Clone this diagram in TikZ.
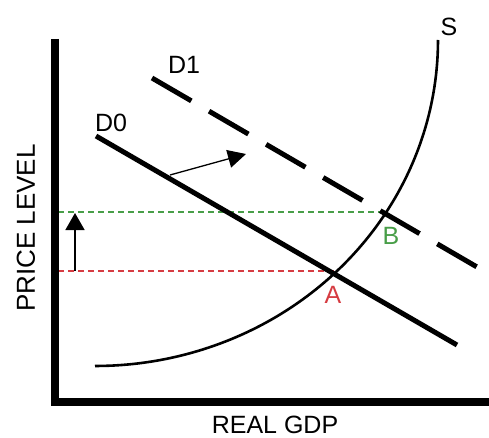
\documentclass[tikz,border=0pt]{standalone}
\usepackage{fontspec}
\setmainfont{Liberation Sans}
\usetikzlibrary{arrows.meta}
\definecolor{redline}{RGB}{214,60,66}
\definecolor{greenline}{RGB}{72,158,72}
\begin{document}
\begin{tikzpicture}[x=1pt,y=-1pt,
  lbl/.style={inner sep=0pt,font=\fontsize{25}{30}\selectfont},
  axisline/.style={line width=7.5pt},
  demand/.style={line width=5pt},
  supply/.style={line width=2.6pt},
  guide/.style={line width=1.3pt,dash pattern=on 6pt off 4pt},
  shiftarrow/.style={line width=1.5pt,-{Triangle[width=19pt,length=17pt]}}]
\useasboundingbox (0,0) rectangle (489,438);
\fill[white] (0,0) rectangle (489,438);
% key points
\coordinate (ytop) at (55,39);
\coordinate (corner) at (55,402);
\coordinate (xend) at (489,402);
\coordinate (d0s) at (96,136);
\coordinate (d0e) at (457,345);
\coordinate (d1s) at (152,78);
\coordinate (d1e) at (477,267);
\coordinate (A) at (334,271);
\coordinate (B) at (386,212);
\coordinate (gL) at (58,212);
\coordinate (rL) at (58,271);
\coordinate (vs) at (75,271);
\coordinate (ve) at (75,213);
\coordinate (hs) at (170,175);
\coordinate (he) at (246,154);
% guides
\draw[guide,greenline] (gL) -- (B);
\draw[guide,redline] (rL) -- (A);
% axes
\draw[axisline] (ytop) -- (corner) -- (xend);
% supply: quarter ellipse
\draw[supply] plot[domain=0:90,samples=60,smooth] ({95+343*cos(\x)},{40+326*sin(\x)});
% demand
\draw[demand] (d0s) -- (d0e);
\draw[demand,dash pattern=on 45.5pt off 20.5pt] (d1s) -- (d1e);
% arrows
\draw[shiftarrow] (vs) -- (ve);
\draw[shiftarrow,line width=1.3pt,-{Triangle[width=18pt,length=18pt]}] (hs) -- (he);
% labels
\node[lbl] (lS) at (449,27) {S};
\node[lbl] (lD1) at (184,65) {D1};
\node[lbl] (lD0) at (111,123) {D0};
\node[lbl,text=redline] (lA) at (333,295) {A};
\node[lbl,text=greenline] (lB) at (391,236) {B};
\node[lbl] (lx) at (275,425) {REAL GDP};
\node[lbl,rotate=90,font=\fontsize{26}{30}\selectfont] (ly) at (26,228) {PRICE LEVEL};
\end{tikzpicture}
\end{document}
